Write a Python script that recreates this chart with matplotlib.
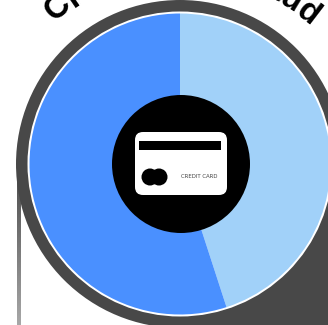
#!/usr/bin/env python3
"""Credit card fraud donut with a card icon and an arched title."""

import numpy as np
import matplotlib
matplotlib.use("Agg")
import matplotlib.pyplot as plt
from matplotlib.colors import LinearSegmentedColormap
from matplotlib.font_manager import FontProperties, findfont, get_font
from matplotlib.ft2font import LoadFlags
from matplotlib.patches import Circle, FancyBboxPatch, Rectangle

shares = [45, 55]
share_colors = ["#a1d1f9", "#4a90ff"]
title = "Credit Card Fraud"
card_label = "CREDIT CARD"

W, H = 328, 325
DARK = "#484848"
CX, CY = 180, H - 164


def arc_text(ax, text, radius, size_px, mid_deg):
    # lay the title out letter by letter along a circle around the pie
    prop = FontProperties(family="Liberation Sans", weight="bold")
    font = get_font(findfont(prop))
    font.set_size(size_px, 72)
    adv = [font.load_char(ord(c), flags=LoadFlags.NO_HINTING).linearHoriAdvance / 65536 for c in text]
    pos = -sum(adv) / 2
    for ch, a in zip(text, adv):
        ang = mid_deg + np.degrees(pos / radius)
        rad = np.radians(ang)
        ax.text(CX + radius * np.sin(rad), CY + radius * np.cos(rad), ch,
                fontproperties=prop, fontsize=size_px * 0.72, rotation=-ang,
                rotation_mode="anchor", ha="left", va="baseline", color="black")
        pos += a


def main():
    fig = plt.figure(figsize=(W / 100, H / 100), dpi=100)
    ax = fig.add_axes([0, 0, 1, 1])

    # grey stem fading out towards the bottom
    ramp = np.linspace(0, 1, 160).reshape(-1, 1)
    ax.imshow(ramp, extent=(17, 21, 0, 160), aspect="auto", zorder=1,
              cmap=LinearSegmentedColormap.from_list("stem", ["#a8a8a8", "#484848"]),
              origin="lower")

    ax.add_patch(Rectangle((CX, 0), W - CX, CY, color=DARK, lw=0, zorder=2))
    ax.add_patch(Circle((CX, CY), 164, color=DARK, lw=0, zorder=2))
    ax.add_patch(Circle((CX, CY), 152.5, color="white", lw=0, zorder=3))

    wedges, _ = ax.pie(shares, colors=share_colors, startangle=90, counterclock=False,
                       center=(CX, CY), radius=150.5, frame=True)
    for w in wedges:
        w.set_zorder(4)
        w.set_linewidth(0)

    ax.add_patch(Circle((CX + 1, CY), 69, color="black", lw=0, zorder=5))

    # card icon
    ax.add_patch(FancyBboxPatch((143, H - 187), 76, 47, boxstyle="round,pad=8,rounding_size=8",
                                color="white", lw=0, zorder=6))
    ax.add_patch(Rectangle((139, H - 150), 82, 9, color="black", lw=0, zorder=7))
    ax.add_patch(Circle((150, H - 177), 8.5, color="black", lw=0, zorder=7))
    ax.add_patch(Circle((159, H - 177), 8.5, color="black", lw=0, zorder=7))
    ax.text(181, H - 177, card_label, fontsize=3.9, color="#444444", family="DejaVu Sans",
            ha="left", va="center", zorder=8)

    arc_text(ax, title, 189, 33, 1.0)

    ax.set_xlim(0, W)
    ax.set_ylim(0, H)
    ax.set_aspect("auto")
    ax.axis("off")
    fig.savefig("out.png", dpi=100)
    plt.close(fig)


if __name__ == "__main__":
    main()
